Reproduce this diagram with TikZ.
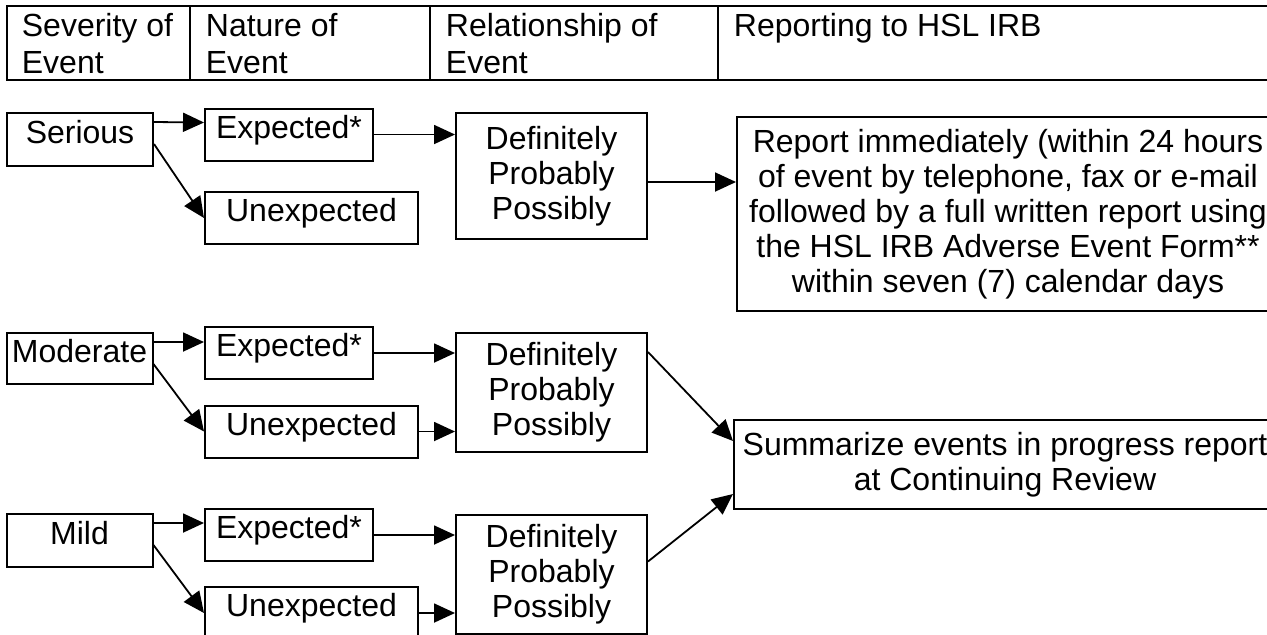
\documentclass[tikz,border=0pt]{standalone}
\usepackage{fontspec}
\setmainfont{Liberation Sans}
\usepackage{tikz}
\usetikzlibrary{arrows.meta}
\tikzset{
    box/.style = {rectangle, draw, line width=1pt, inner sep=0pt, align=center},
    level/.style = {box, minimum width=73pt, minimum height=26.5pt, text height=0.72em, text depth=0.34em},
    expected/.style = {box, minimum width=84pt, minimum height=26pt, text height=0.72em, text depth=0.34em},
    unexpected/.style = {box, minimum width=106.5pt, minimum height=26pt, text height=0.72em, text depth=0.34em},
    relation/.style = {box, minimum width=95.5pt, minimum height=59.5pt},
    report/.style = {box, minimum width=271pt},
    head/.style = {anchor=north west, align=left, inner sep=0pt, font=\fontsize{16}{18.5}\selectfont}}

\begin{document}
\begin{tikzpicture}[-{Triangle[length=10.5pt,width=9.5pt]}, x=0.5pt, y=-0.5pt,
    line width=0.9pt, font=\fontsize{16}{17.5}\selectfont]
    \useasboundingbox (0,0) rectangle (1267,634);
    \clip (0,0) rectangle (1267,634);
    % table header
    \draw[-, line width=1.4pt] (7,6) rectangle (1300,80);
    \draw[-, line width=1.4pt] (190,6) -- (190,80) (430,6) -- (430,80) (718,6) -- (718,80);
    \node[head] (hS) at (21,12) {Severity of\\Event};
    \node[head] (hN) at (205,12) {Nature of\\Event};
    \node[head] (hR) at (445,12) {Relationship of\\Event};
    \node[head] (hT) at (733,12) {Reporting to HSL IRB};
    % serious
    \node[level] (S) at (80,139.5) {Serious};
    \node[expected] (SE) at (289,134.5) {Expected*};
    \node[unexpected] (SU) at (311.5,218) {Unexpected};
    \node[relation, minimum height=63pt] (SR) at (551.5,176) {Definitely\\Probably\\Possibly};
    \node[report, minimum height=97pt] (RI) at (1008,214) {Report immediately (within 24 hours\\of event by telephone, fax or e-mail\\followed by a full written report using\\the HSL IRB Adverse Event Form**\\within seven (7) calendar days};
    % moderate
    \node[level, minimum height=25.5pt] (M) at (79.5,358.5) {Moderate};
    \node[expected] (ME) at (289,353) {Expected*};
    \node[unexpected] (MU) at (311.5,431.5) {Unexpected};
    \node[relation] (MR) at (551.5,392.5) {Definitely\\Probably\\Possibly};
    \node[report, minimum height=44.5pt] (RC) at (1005,464.5) {Summarize events in progress report\\at Continuing Review};
    % mild
    \node[level] (Mi) at (79.5,540.5) {Mild};
    \node[expected] (MiE) at (289,535) {Expected*};
    \node[unexpected] (MiU) at (311.5,613) {Unexpected};
    \node[relation] (MiR) at (551.5,574) {Definitely\\Probably\\Possibly};
    % arrows
    \draw ([yshift=-5pt]S.north east) -- ([yshift=-7.5pt]SE.north west);
    \draw ([yshift=-16pt]S.north east) -- (SU.west);
    \draw (SE.east) -- (SE.east -| SR.west);
    \draw ([yshift=-3pt]SR.east) -- ([yshift=16pt]RI.west);
    \draw ([yshift=-5pt]M.north east) -- ([yshift=-8pt]ME.north west);
    \draw ([yshift=-16pt]M.north east) -- (MU.west);
    \draw (ME.east) -- (ME.east -| MR.west);
    \draw (MU.east) -- (MU.east -| MR.west);
    \draw ([yshift=-10pt]MR.north east) -- ([yshift=-11pt]RC.north west);
    \draw ([yshift=-5pt]Mi.north east) -- ([yshift=-7.5pt]MiE.north west);
    \draw ([yshift=-16pt]Mi.north east) -- (MiU.west);
    \draw (MiE.east) -- (MiE.east -| MiR.west);
    \draw (MiU.east) -- (MiU.east -| MiR.west);
    \draw ([yshift=-24pt]MiR.north east) -- ([yshift=8pt]RC.south west);
\end{tikzpicture}
\end{document}
